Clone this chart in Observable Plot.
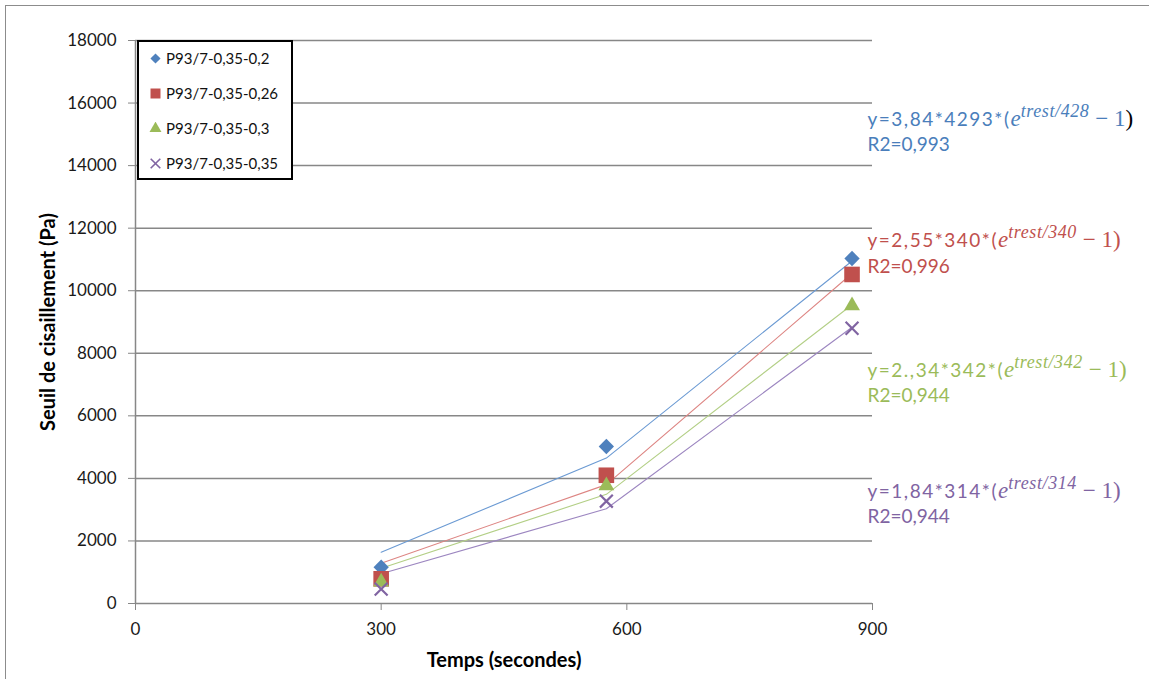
<!DOCTYPE html>
<html>
<head>
<meta charset="utf-8">
<script src="https://cdn.jsdelivr.net/npm/d3@7"></script>
<script src="https://cdn.jsdelivr.net/npm/@observablehq/plot@0.6"></script>
<style>
html, body { margin: 0; padding: 0; background: #fff; overflow: hidden; }
#wrap { position: relative; width: 1149px; height: 679px; font-family: Lato, "Open Sans", sans-serif; }
#frame { position: absolute; left: 5px; top: 5px; width: 1170px; height: 700px; border: 1px solid #8c8c8c; pointer-events: none; }
#legend { position: absolute; left: 137px; top: 40px; width: 156px; height: 140px; box-sizing: border-box; border: 2px solid #000; background: #fff; }
.lg-row { position: absolute; left: 0; height: 20px; display: flex; align-items: center; font-size: 15px; color: #111; white-space: nowrap; }
.lg-row svg { margin-left: 10px; margin-right: 4px; }
</style>
</head>
<body>
<div id="wrap">
  <div id="chart"></div>
  <div id="legend"></div>
  <div id="frame"></div>
</div>
<script>
// ---- Data ----
const temps = [300, 575, 875];                       // Temps (secondes)
const series = ["P93/7-0,35-0,2", "P93/7-0,35-0,26", "P93/7-0,35-0,3", "P93/7-0,35-0,35"];
// measured yield stress (Pa)
const mesure_02   = [1160, 5020, 11030];
const mesure_026  = [790, 4100, 10520];
const mesure_03   = [690, 3770, 9520];
const mesure_035  = [460, 3270, 8800];
// fitted model values (Pa)
const modele_02   = [1640, 4650, 10950];
const modele_026  = [1290, 3800, 10550];
const modele_03   = [1130, 3490, 9550];
const modele_035  = [950, 3030, 8830];
// annotations
const equations = [
  "y=3,84*4293*(e^{trest/428} − 1",
  "y=2,55*340*(e^{trest/340} − 1",
  "y=2.,34*342*(e^{trest/342} − 1",
  "y=1,84*314*(e^{trest/314} − 1"
];
const r2Labels = ["R2=0,993", "R2=0,996", "R2=0,944", "R2=0,944"];
const eqY = [15450, 11580, 7450, 3580];
const r2Y = [14660, 10760, 6630, 2760];
// axes
const xTicks = [0, 300, 600, 900];
const yTicks = [0, 2000, 4000, 6000, 8000, 10000, 12000, 14000, 16000, 18000];
const xLabel = "Temps (secondes)";
const yLabel = "Seuil de cisaillement (Pa)";

// ---- Styles ----
const markerColors = ["#4f81bd", "#c0504d", "#9bbb59", "#8064a2"];
const lineColors   = ["#6b9ad3", "#dd8583", "#b3cf86", "#9c86c0"];
const textColors   = ["#4a7ebb", "#c0504d", "#9bbb59", "#8064a2"];
const parenColors  = ["#000", "#c0504d", "#9bbb59", "#8064a2"];
const symbols = ["diamond2", "square", "triangle", "times"];
const symbolR = [6.9, 8.8, 5.9, 5.9];

const mesures = [mesure_02, mesure_026, mesure_03, mesure_035];
const modeles = [modele_02, modele_026, modele_03, modele_035];

const pts = [], fits = [];
series.forEach((s, i) => {
  temps.forEach((t, j) => {
    pts.push({serie: s, i, t, y: mesures[i][j]});
    fits.push({serie: s, i, t, y: modeles[i][j]});
  });
});
const annot = series.map((s, i) => ({i, eq: equations[i], r2: r2Labels[i], eqY: eqY[i], r2Y: r2Y[i], x: 900}));

const grid = "#878787";

const marks = [
  Plot.ruleY(yTicks.filter(d => d > 0), {stroke: grid, strokeWidth: 1.5}),
  Plot.ruleX([0], {stroke: grid, strokeWidth: 1.5}),
  Plot.ruleY([0], {stroke: grid, strokeWidth: 1.5}),
  Plot.axisY({ticks: yTicks, tickSize: 7, tickPadding: 12, fontSize: 17, stroke: grid, fill: "#1a1a1a", tickFormat: d3.format("d"), label: null}),
  Plot.axisX({ticks: xTicks, tickSize: 7, tickPadding: 12, fontSize: 17, stroke: grid, fill: "#1a1a1a", tickFormat: d3.format("d"), label: null}),
  Plot.text([xLabel], {frameAnchor: "bottom", dy: 57, fontSize: 20, fontWeight: "bold", fill: "#000", lineAnchor: "middle", textAnchor: "middle"}),
  Plot.text([yLabel], {frameAnchor: "left", dx: -87, rotate: -90, fontSize: 20, fontWeight: "bold", fill: "#000", lineAnchor: "middle", textAnchor: "middle"})
];
series.forEach((s, i) => {
  marks.push(Plot.line(fits.filter(d => d.i === i), {x: "t", y: "y", stroke: lineColors[i], strokeWidth: 1.1}));
});
series.forEach((s, i) => {
  const data = pts.filter(d => d.i === i);
  if (symbols[i] === "times") {
    marks.push(Plot.dot(data, {x: "t", y: "y", symbol: symbols[i], r: symbolR[i], stroke: markerColors[i], strokeWidth: 2.2, fill: "none"}));
  } else {
    marks.push(Plot.dot(data, {x: "t", y: "y", symbol: symbols[i], r: symbolR[i], fill: markerColors[i], stroke: "none"}));
  }
});
annot.forEach((a, i) => {
  marks.push(Plot.text([a], {x: "x", y: "eqY", text: "eq", textAnchor: "start", dx: -5, fontSize: 19, fill: textColors[i], lineAnchor: "middle"}));
  marks.push(Plot.text([a], {x: "x", y: "r2Y", text: "r2", textAnchor: "start", dx: -5, fontSize: 19, fill: textColors[i], lineAnchor: "middle"}));
});

const plot = Plot.plot({
  width: 1149, height: 679,
  marginLeft: 135, marginRight: 277, marginTop: 40, marginBottom: 76,
  x: {domain: [0, 900], label: null},
  y: {domain: [0, 18000], label: null},
  style: {fontFamily: "Lato, 'Open Sans', sans-serif", background: "transparent", overflow: "visible"},
  marks
});
document.getElementById("chart").appendChild(plot);

// superscript formatting of the equations
d3.select(plot).selectAll("text").each(function() {
  const el = this;
  const txt = el.textContent;
  const m = txt.match(/^(.*)e\^\{(.*)\}(.*)$/);
  if (!m || el.querySelector("tspan")) return;
  const idx = equations.findIndex(e => e === txt);
  el.textContent = "";
  const sel = d3.select(el);
  sel.append("tspan").attr("letter-spacing", "1.5px").text(m[1]);
  sel.append("tspan").attr("font-family", "'Liberation Serif', serif").attr("font-style", "italic").attr("font-size", 23).text("e");
  sel.append("tspan").attr("font-family", "'Liberation Serif', serif").attr("font-style", "italic").attr("font-size", 18).attr("dy", -9).attr("letter-spacing", "0.6px").text(m[2]);
  sel.append("tspan").attr("font-family", "'Liberation Serif', serif").attr("font-size", 23).attr("dy", 9).text(m[3]);
  sel.append("tspan").attr("font-family", "'Liberation Serif', serif").attr("font-size", 23).attr("fill", parenColors[idx >= 0 ? idx : 0]).text(")");
});

// legend
const legend = d3.select("#legend");
const rowTop = [6, 41, 76, 111];
series.forEach((s, i) => {
  const row = legend.append("div").attr("class", "lg-row").style("top", rowTop[i] + "px");
  const svg = row.append("svg").attr("width", 13).attr("height", 13).attr("viewBox", "-6.5 -6.5 13 13");
  const sym = {diamond2: d3.symbolDiamond2, square: d3.symbolSquare, triangle: d3.symbolTriangle, times: d3.symbolTimes}[symbols[i]];
  const size = {diamond2: 66, square: 100, triangle: 62, times: 62}[symbols[i]];
  const p = svg.append("path").attr("d", d3.symbol(sym, size)());
  if (symbols[i] === "times") p.attr("stroke", markerColors[i]).attr("stroke-width", 1.6).attr("fill", "none");
  else p.attr("fill", markerColors[i]);
  row.append("span").text(s);
});
</script>
</body>
</html>
